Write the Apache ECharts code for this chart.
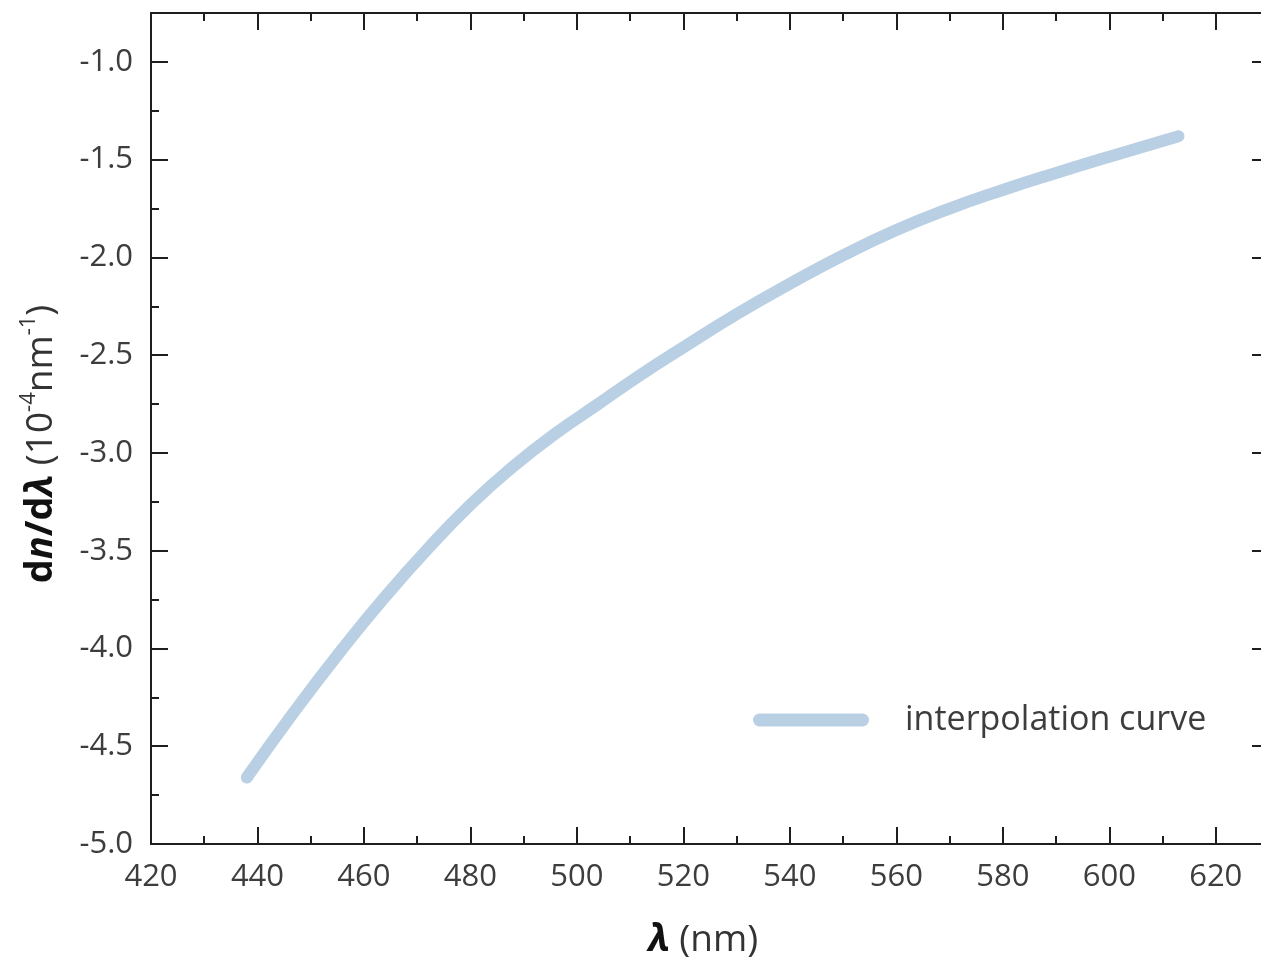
<!DOCTYPE html>
<html>
<head>
<meta charset="utf-8">
<script src="https://cdn.jsdelivr.net/npm/echarts@6/dist/echarts.min.js"></script>
<style>
html,body{margin:0;padding:0;background:#ffffff;}
#c{width:1261px;height:962px;}
</style>
</head>
<body>
<div id="c"></div>
<script>
// ---- data ----
const wavelength = [438, 447, 456, 464, 472, 480, 488, 496, 504, 512, 520, 530, 540, 550, 560, 570, 580, 590, 600, 613];
const dnDlambda  = [-4.66, -4.32, -4.00, -3.735, -3.49, -3.265, -3.07, -2.90, -2.75, -2.60, -2.46, -2.29, -2.135, -1.99, -1.86, -1.75, -1.655, -1.568, -1.485, -1.38];
const seriesName = 'interpolation curve';
const xRange = [420, 630];
const yRange = [-5, -0.75];
const xMajorStep = 20, xMinorStep = 10;
const yMajorStep = 0.5, yMinorStep = 0.25;

// ---- styling ----
const FONT = '"Open Sans", "Noto Sans", sans-serif';
const AXIS_COLOR = '#1e1e1e';
const LABEL_COLOR = '#3d3d3d';
const LINE_COLOR = '#b9cfe3';

function xAxisDef(pos, major, labels) {
  return {
    type: 'value', gridIndex: 0, position: pos,
    min: xRange[0], max: xRange[1], interval: major ? xMajorStep : xMinorStep,
    axisLine: { show: major, onZero: false, lineStyle: { color: AXIS_COLOR, width: 2 } },
    axisTick: { show: true, inside: true, length: major ? 17 : 8, lineStyle: { color: AXIS_COLOR, width: 2 } },
    minorTick: { show: false },
    axisLabel: {
      show: labels, showMaxLabel: false, showMinLabel: true, hideOverlap: false,
      margin: 18, fontFamily: FONT, fontSize: 31, color: LABEL_COLOR,
      formatter: v => String(v)
    },
    splitLine: { show: false }
  };
}
function yAxisDef(pos, major, labels) {
  return {
    type: 'value', gridIndex: 0, position: pos,
    min: yRange[0], max: yRange[1], interval: major ? yMajorStep : yMinorStep,
    axisLine: { show: major, onZero: false, lineStyle: { color: AXIS_COLOR, width: 2 } },
    axisTick: { show: true, inside: true, length: major ? 17 : 8, lineStyle: { color: AXIS_COLOR, width: 2 } },
    minorTick: { show: false },
    axisLabel: {
      show: labels, showMaxLabel: false, showMinLabel: true, hideOverlap: false,
      margin: 18, fontFamily: FONT, fontSize: 31, color: LABEL_COLOR,
      formatter: v => v.toFixed(1)
    },
    splitLine: { show: false }
  };
}

const chart = echarts.init(document.getElementById('c'), null, { renderer: 'canvas' });
const option = {
  backgroundColor: '#ffffff',
  animation: false,
  grid: { left: 151, top: 13, right: -8, bottom: 118, containLabel: false, outerBoundsMode: 'none' },
  xAxis: [
    xAxisDef('bottom', true, true),
    xAxisDef('bottom', false, false),
    xAxisDef('top', true, false),
    xAxisDef('top', false, false)
  ],
  yAxis: [
    yAxisDef('left', true, true),
    yAxisDef('left', false, false),
    yAxisDef('right', true, false),
    yAxisDef('right', false, false)
  ],
  legend: {
    show: true,
    data: [seriesName],
    left: 753, top: 703, padding: 0,
    itemWidth: 116, itemHeight: 13,
    icon: 'path://M6.5,0 L109.5,0 A6.5,6.5 0 0 1 109.5,13 L6.5,13 A6.5,6.5 0 0 1 6.5,0 Z',
    itemStyle: { color: LINE_COLOR, borderWidth: 0 },
    textStyle: { fontFamily: FONT, fontSize: 34, color: LABEL_COLOR, padding: [4, 0, 0, 31] }
  },
  graphic: [
    {
      type: 'text', x: 703, y: 940, silent: true,
      style: {
        x: 0, y: 0, align: 'center', verticalAlign: 'middle',
        textAlign: 'center', textVerticalAlign: 'middle',
        text: '{bi|λ}{r| (nm)}',
        rich: {
          bi: { fontFamily: FONT, fontSize: 38, fontWeight: 'bold', fontStyle: 'italic', fill: '#111', color: '#111' },
          r: { fontFamily: FONT, fontSize: 37, fill: '#333', color: '#333' }
        }
      }
    },
    {
      type: 'text', x: 41, y: 444, rotation: Math.PI / 2, silent: true,
      style: {
        x: 0, y: 0, align: 'center', verticalAlign: 'middle',
        textAlign: 'center', textVerticalAlign: 'middle',
        text: '{b|d}{bi|n}{b|/d}{bi|λ}{r| (10}{sup|-4}{r|nm}{sup|-1}{r|)}',
        rich: {
          b: { fontFamily: FONT, fontSize: 38, fontWeight: 'bold', fill: '#111', color: '#111', lineHeight: 46 },
          bi: { fontFamily: FONT, fontSize: 38, fontWeight: 'bold', fontStyle: 'italic', fill: '#111', color: '#111', lineHeight: 46 },
          r: { fontFamily: FONT, fontSize: 37, fill: '#333', color: '#333', lineHeight: 46 },
          sup: { fontFamily: FONT, fontSize: 22, fill: '#333', color: '#333', lineHeight: 28, verticalAlign: 'top' }
        }
      }
    }
  ],
  series: [
    {
      name: seriesName,
      type: 'line',
      xAxisIndex: 0, yAxisIndex: 0,
      data: wavelength.map((w, i) => [w, dnDlambda[i]]),
      smooth: 0.5,
      showSymbol: false, symbol: 'none',
      color: LINE_COLOR,
      itemStyle: { color: LINE_COLOR },
      lineStyle: { color: LINE_COLOR, width: 12, cap: 'round', join: 'round' },
      clip: false
    }
  ]
};
chart.setOption(option);
</script>
</body>
</html>
